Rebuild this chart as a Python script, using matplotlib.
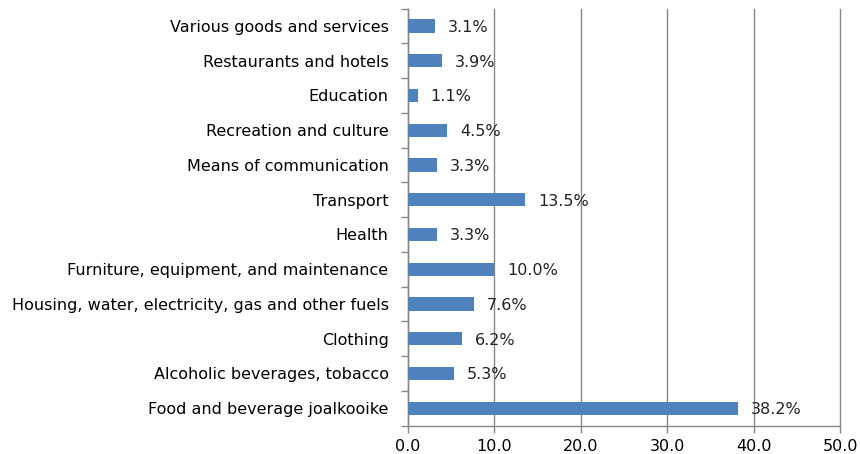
import matplotlib
matplotlib.use("Agg")
import matplotlib.pyplot as plt
from matplotlib.ticker import FixedLocator, NullFormatter

categories = [
    "Food and beverage joalkooike",
    "Alcoholic beverages, tobacco",
    "Clothing",
    "Housing, water, electricity, gas and other fuels",
    "Furniture, equipment, and maintenance",
    "Health",
    "Transport",
    "Means of communication",
    "Recreation and culture",
    "Education",
    "Restaurants and hotels",
    "Various goods and services",
]
values = [38.2, 5.3, 6.2, 7.6, 10.0, 3.3, 13.5, 3.3, 4.5, 1.1, 3.9, 3.1]
xticks = [0, 10, 20, 30, 40, 50]

plt.rcParams['font.family'] = ['DejaVu Sans']
FS = 11.5

fig = plt.figure(figsize=(8.6, 4.54), dpi=100)
ax = fig.add_axes([408/860, 1 - 425.5/454, (840-408)/860, (425.5-8.6)/454])

y = list(range(len(categories)))
ax.barh(y, values, height=0.38, color='#4F81BD', zorder=3)
for yi, v in zip(y, values):
    ax.annotate(f"{v:.1f}%", (v, yi), xytext=(9.5, -1), textcoords='offset points',
                ha='left', va='center', fontsize=FS, color='#222222')

ax.set_xlim(0, 50)
ax.set_ylim(-0.5, len(categories) - 0.5)
ax.set_xticks(xticks)
ax.set_xticklabels([f"{t:.1f}" for t in xticks], fontsize=FS)
ax.set_yticks(y)
ax.set_yticklabels(categories, fontsize=FS)
ax.tick_params(axis='y', length=0, pad=14)
ax.yaxis.set_minor_locator(FixedLocator([i - 0.5 for i in range(len(categories) + 1)]))
ax.yaxis.set_minor_formatter(NullFormatter())
ax.tick_params(axis='y', which='minor', length=5, color='#888888', width=1)
ax.tick_params(axis='x', length=5, color='#888888', width=1, pad=5)
ax.grid(axis='x', color='#888888', linewidth=1, zorder=0)
for line in ax.get_xgridlines():
    line.set_clip_on(False)
for s in ['top', 'right']:
    ax.spines[s].set_visible(False)
for s in ['left', 'bottom']:
    ax.spines[s].set_color('#888888')
    ax.spines[s].set_linewidth(1)

fig.savefig("out.png", dpi=100)
